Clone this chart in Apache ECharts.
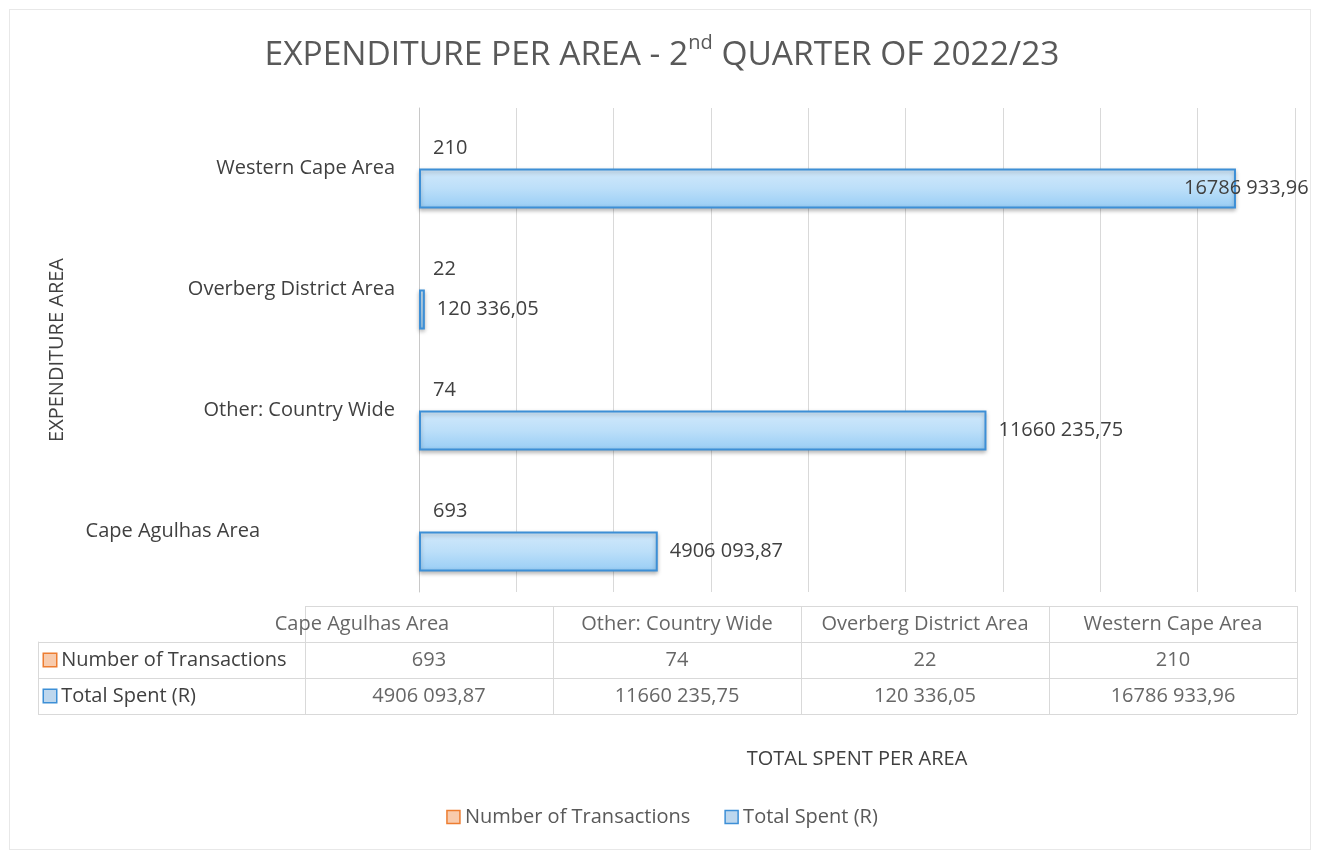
<!DOCTYPE html>
<html>
<head>
<meta charset="utf-8">
<script src="https://cdn.jsdelivr.net/npm/echarts@6/dist/echarts.min.js"></script>
<style>
  html, body { margin: 0; padding: 0; background: #fff; }
  #chart { width: 1324px; height: 854px; }
  #frame { position: absolute; left: 9px; top: 9px; width: 1300px; height: 839px; border: 1px solid #e8e8e8; pointer-events: none; }
</style>
</head>
<body>
<div id="chart"></div>
<div id="frame"></div>
<script>
// 数据
const areas = ["Cape Agulhas Area", "Other: Country Wide", "Overberg District Area", "Western Cape Area"];
const transactions = [693, 74, 22, 210];
const totalSpent = [4906093.87, 11660235.75, 120336.05, 16786933.96];
const rowNames = ["Number of Transactions", "Total Spent (R)"];
const xTicks = { min: 0, max: 18000000, interval: 2000000 };

// 4906 093,87 这种格式
const fmt = (v) => {
  const [i, d] = v.toFixed(2).split(".");
  const head = i.slice(0, -3);
  return (head ? head + " " : "") + i.slice(-3) + "," + d;
};

const chart = echarts.init(document.getElementById("chart"));

const txt = "#404040";
const gridLine = "#d9d9d9";
const fs = 20;

// 表格单元格
const tableData = [];
areas.forEach((a, i) => {
  tableData.push(i === 0 ? { value: [i, 0, a], label: { offset: [-67, 0] } } : [i, 0, a]);
  tableData.push([i, 1, String(transactions[i])]);
  tableData.push([i, 2, fmt(totalSpent[i])]);
});

const option = {
  textStyle: { fontFamily: "Open Sans" },
  title: {
    text: "{a|EXPENDITURE PER AREA - 2}{s|nd}{a| QUARTER OF 2022/23}",
    left: "center",
    top: 28,
    textStyle: {
      rich: {
        a: { fontSize: 33.5, fontWeight: "normal", color: "#595959", fontFamily: "Open Sans", lineHeight: 44 },
        s: { fontSize: 20, fontWeight: "normal", color: "#595959", fontFamily: "Open Sans", verticalAlign: "top", lineHeight: 44, padding: [0, 0, 16, 0] },
      },
    },
  },
  legend: {
    bottom: 22,
    left: "center",
    itemWidth: 13,
    itemHeight: 13,
    itemGap: 34,
    textStyle: { fontSize: fs, color: "#595959" },
    data: [
      { name: "Number of Transactions", icon: "rect", itemStyle: { color: "#f8cbad", borderColor: "#ed7d31", borderWidth: 1.5 } },
      { name: "Total Spent (R)", icon: "rect", itemStyle: { color: "#bdd7ee", borderColor: "#3d8fd6", borderWidth: 1.5 } },
    ],
  },
  grid: [
    { left: 419, top: 108, width: 876, height: 484 },
    { left: 38, top: 642, width: 267, height: 72 },
    { left: 305, top: 606, width: 992, height: 108 },
  ],
  xAxis: [
    {
      type: "value",
      gridIndex: 0,
      min: xTicks.min,
      max: xTicks.max,
      interval: xTicks.interval,
      axisLabel: { show: false },
      axisLine: { show: false },
      axisTick: { show: false },
      splitLine: { lineStyle: { color: gridLine } },
      name: "TOTAL SPENT PER AREA",
      nameLocation: "middle",
      nameGap: 157,
      nameTextStyle: { fontSize: fs, color: txt },
    },
    { type: "category", gridIndex: 1, data: [""], show: false },
    {
      type: "category",
      gridIndex: 2,
      data: areas,
      axisLabel: { show: false },
      axisLine: { show: false },
      axisTick: { show: false },
      splitLine: { show: true, lineStyle: { color: gridLine } },
    },
  ],
  yAxis: [
    {
      type: "category",
      gridIndex: 0,
      data: areas,
      axisLine: { lineStyle: { color: "#c8c8c8" } },
      axisTick: { show: false },
      axisLabel: {
        fontSize: fs,
        color: txt,
        margin: 24,
        formatter: (v) => (v === "Cape Agulhas Area" ? "{s|" + v + "}" : v),
        rich: { s: { fontSize: fs, color: txt, padding: [0, 135, 0, 0] } },
      },
      name: "EXPENDITURE AREA",
      nameLocation: "middle",
      nameGap: 352,
      nameRotate: 90,
      nameTextStyle: { fontSize: 20, color: txt },
    },
    {
      type: "category",
      gridIndex: 1,
      data: rowNames,
      inverse: true,
      axisLine: { lineStyle: { color: gridLine } },
      axisTick: { show: false },
      splitLine: { show: true, lineStyle: { color: gridLine } },
      axisLabel: {
        inside: true,
        margin: 6,
        fontSize: fs,
        color: txt,
        formatter: (v, i) => "{" + (i === 0 ? "o" : "b") + "|} " + v,
        rich: {
          o: { width: 12, height: 12, backgroundColor: "#f8cbad", borderColor: "#ed7d31", borderWidth: 1.5 },
          b: { width: 12, height: 12, backgroundColor: "#bdd7ee", borderColor: "#3d8fd6", borderWidth: 1.5 },
        },
      },
    },
    {
      type: "category",
      gridIndex: 2,
      data: ["", rowNames[0], rowNames[1]],
      inverse: true,
      axisLabel: { show: false },
      axisLine: { show: false },
      axisTick: { show: false },
      splitLine: { show: true, lineStyle: { color: gridLine } },
    },
  ],
  series: [
    {
      name: "Number of Transactions",
      type: "bar",
      xAxisIndex: 0,
      yAxisIndex: 0,
      data: transactions,
      barWidth: 40,
      barGap: "0%",
      itemStyle: { color: "#f8cbad", borderWidth: 0 },
      label: { show: true, position: "right", distance: 14, fontSize: fs, color: txt },
    },
    {
      name: "Total Spent (R)",
      type: "bar",
      xAxisIndex: 0,
      yAxisIndex: 0,
      data: totalSpent.map((v, i) => (i === 3 ? { value: v, label: { offset: [-64, 0] } } : v)),
      barWidth: 40,
      itemStyle: {
        color: new echarts.graphic.LinearGradient(0, 0, 0, 1, [
          { offset: 0, color: "#d2e9fb" },
          { offset: 0.5, color: "#bcdff9" },
          { offset: 1, color: "#98cdf5" },
        ]),
        borderColor: "#3d8fd6",
        borderWidth: 2,
        shadowBlur: 4,
        shadowOffsetY: 2,
        shadowColor: "rgba(0,0,0,0.25)",
      },
      label: { show: true, position: "right", distance: 12, fontSize: fs, color: txt, formatter: (p) => fmt(p.value) },
    },
    {
      name: "table",
      type: "scatter",
      xAxisIndex: 2,
      yAxisIndex: 2,
      silent: true,
      symbolSize: 1,
      itemStyle: { color: "transparent" },
      data: tableData,
      label: { show: true, position: "inside", fontSize: fs, color: txt, formatter: (p) => p.value[2] },
    },
  ],
};

chart.setOption(option);
</script>
</body>
</html>
